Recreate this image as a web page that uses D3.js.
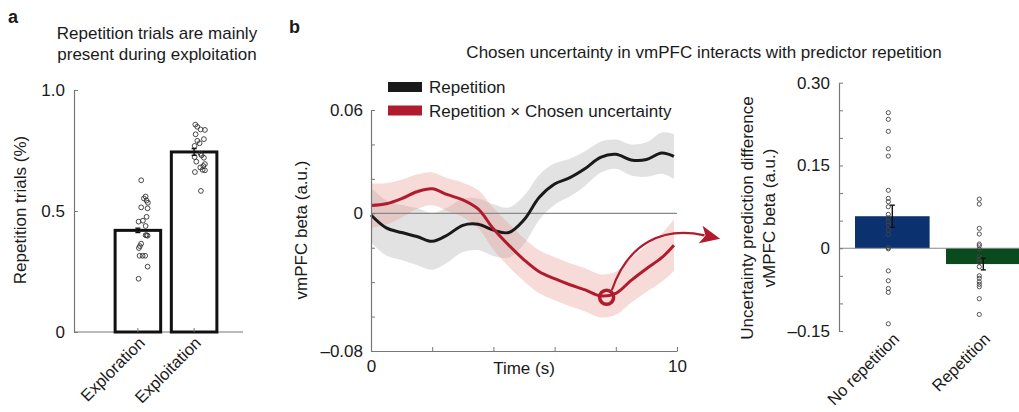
<!DOCTYPE html>
<html><head><meta charset="utf-8">
<script src="https://cdn.jsdelivr.net/npm/d3@7"></script>
<style>
html,body{margin:0;padding:0;background:#fff;}
svg{display:block;font-family:"Liberation Sans",Arial,Helvetica,sans-serif;}
</style></head>
<body><svg id="c" width="1019" height="412"></svg>
<script>
// ---------- Panel a data ----------
const aCategories = ["Exploration", "Exploitation"];
const aMeans = [0.42, 0.744];
const aSE = [0.009, 0.014];
const aYTicks = [0, 0.5, 1.0];
const aYTickLabels = ["0", "0.5", "1.0"];
const explorationDots = [0.627,0.56,0.552,0.543,0.534,0.515,0.511,0.476,0.46,0.456,0.438,0.40,0.40,0.398,0.365,0.355,0.347,0.315,0.315,0.315,0.27,0.22];
const explorationJitter = [3.3,7.7,6,8.7,10,3.3,9.7,8.7,5,0.7,7.7,8.7,7.7,9.7,3.3,2,1,1.7,4.7,7.3,9.7,0.7];
const exploitationDots = [0.857,0.848,0.837,0.835,0.817,0.797,0.79,0.78,0.769,0.737,0.73,0.723,0.72,0.704,0.694,0.686,0.68,0.668,0.67,0.661,0.583];
const exploitationJitter = [1.2,3.2,6.5,10.8,1.5,9.8,3.2,5.5,0.5,6.5,7.5,0.5,9.8,2.2,10.8,9.2,6.2,10.8,8.5,0.8,6.8];

// ---------- Panel b (time course) data ----------
const timeS = [0,0.5,1,1.5,2,2.5,3,3.5,4,4.5,5,5.5,6,6.5,7,7.5,8,8.5,9,9.5,9.9];
const repetitionBeta = [-0.001,-0.0085,-0.0112,-0.0135,-0.0163,-0.0126,-0.0070,-0.0064,-0.0098,-0.0112,-0.0038,0.0093,0.0170,0.0207,0.0260,0.0325,0.0343,0.0310,0.0312,0.0350,0.0330];
const repetitionSE = [0.016,0.016,0.016,0.0165,0.0165,0.016,0.0155,0.015,0.015,0.0145,0.014,0.013,0.012,0.011,0.010,0.009,0.0085,0.009,0.010,0.012,0.013];
const interactionBeta = [0.0045,0.0055,0.0085,0.0125,0.0142,0.0108,0.0078,0.0025,-0.0090,-0.0185,-0.0270,-0.0340,-0.0380,-0.0415,-0.0445,-0.0480,-0.0465,-0.0390,-0.0322,-0.0258,-0.0185];
const interactionSE = [0.013,0.012,0.011,0.010,0.0095,0.0095,0.010,0.011,0.012,0.0125,0.0125,0.0125,0.0125,0.0125,0.0125,0.0125,0.0125,0.013,0.0135,0.014,0.015];
const bYTicks = [-0.08,-0.06,-0.04,-0.02,0,0.02,0.04,0.06];
const bYTickLabels = {"-0.08":"\u20130.08","0":"0","0.06":"0.06"};
const bXTicks = [0,2,4,6,8,10];
const legendLabels = ["Repetition", "Repetition \u00d7 Chosen uncertainty"];
const markerPoint = {t: 7.7, v: -0.0488};

// ---------- Panel b (bars) data ----------
const cCategories = ["No repetition", "Repetition"];
const cMeans = [0.058, -0.0287];
const cSE = [0.020, 0.0105];
const noRepetitionDots = [0.2456,0.2336,0.2118,0.1803,0.167,0.105,0.0904,0.0843,0.0752,0.0614,0.055,0.048,0.042,0.033,0.025,0.001,-0.001,-0.041,-0.059,-0.073,-0.080,-0.137];
const repetitionDots = [0.089,0.080,0.036,0.0257,0.0076,0.0045,-0.0015,-0.0154,-0.020,-0.0256,-0.0335,-0.050,-0.0545,-0.0607,-0.0654,-0.0698,-0.0915,-0.12];
const cYTicks = [-0.15,-0.10,-0.05,0,0.05,0.10,0.15,0.20,0.25,0.30];
const cYTickLabels = {"-0.15":"\u20130.15","0":"0","0.15":"0.15","0.3":"0.30"};

// ---------- drawing ----------
const svg = d3.select("#c");
const AX = "#777";
const TXT = "#1a1a1a";
const RED = "#b01c2e";
const fs = 17;
const fsRot = 16.5;

function styleAxis(g){
  g.selectAll(".domain").attr("stroke", AX).attr("stroke-width", 1.2);
  g.selectAll(".tick line").attr("stroke", AX).attr("stroke-width", 1);
  g.selectAll(".tick text").attr("fill", TXT).attr("font-size", fs).attr("font-family", "Liberation Sans, Arial, sans-serif");
}

// panel letters & titles
svg.append("text").attr("x", 8).attr("y", 23).attr("font-size", 18).attr("font-weight", "bold").attr("fill", TXT).text("a");
svg.append("text").attr("x", 289).attr("y", 33).attr("font-size", 18).attr("font-weight", "bold").attr("fill", TXT).text("b");
svg.append("text").attr("x", 157).attr("y", 39).attr("text-anchor", "middle").attr("font-size", fs).attr("fill", TXT).text("Repetition trials are mainly");
svg.append("text").attr("x", 157).attr("y", 60).attr("text-anchor", "middle").attr("font-size", fs).attr("fill", TXT).text("present during exploitation");
svg.append("text").attr("x", 704).attr("y", 58).attr("text-anchor", "middle").attr("font-size", fs).attr("fill", TXT).text("Chosen uncertainty in vmPFC interacts with predictor repetition");

// ===== Panel a =====
const ay = d3.scaleLinear().domain([0, 1]).range([332, 90]);
const ax = d3.scaleBand().domain(aCategories).range([109.5, 222.5]).paddingInner(0.19).paddingOuter(0.1);
const gA = svg.append("g");
const aAxisY = gA.append("g").attr("transform", "translate(74,0)")
  .call(d3.axisLeft(ay).tickValues(aYTicks).tickSizeInner(-4).tickSizeOuter(0).tickPadding(9)
    .tickFormat((d,i) => aYTickLabels[i]));
styleAxis(aAxisY);
gA.append("line").attr("x1", 74).attr("x2", 243).attr("y1", 332).attr("y2", 332).attr("stroke", AX).attr("stroke-width", 1.2);
gA.selectAll("rect.bar").data(aCategories).enter().append("rect")
  .attr("x", d => ax(d)).attr("width", ax.bandwidth())
  .attr("y", (d,i) => ay(aMeans[i])).attr("height", (d,i) => ay(0) - ay(aMeans[i]))
  .attr("fill", "#fff").attr("stroke", "#111").attr("stroke-width", 3);
gA.selectAll("line.ct").data(aCategories).enter().append("line")
  .attr("x1", d => ax(d) + ax.bandwidth()/2).attr("x2", d => ax(d) + ax.bandwidth()/2)
  .attr("y1", 332).attr("y2", 328).attr("stroke", AX);
const aDotSets = [[explorationDots, explorationJitter], [exploitationDots, exploitationJitter]];
aDotSets.forEach(([vals, jit], ci) => {
  const cx = ax(aCategories[ci]) + ax.bandwidth()/2;
  gA.selectAll(null).data(vals).enter().append("circle")
    .attr("cx", (d,i) => cx + jit[i]).attr("cy", d => ay(d)).attr("r", 2.4)
    .attr("fill", "none").attr("stroke", "#333").attr("stroke-width", 0.9);
});
aCategories.forEach((c, i) => {
  const cx = ax(c) + ax.bandwidth()/2;
  const g = gA.append("g").attr("stroke", "#111").attr("stroke-width", 1.4);
  g.append("line").attr("x1", cx).attr("x2", cx).attr("y1", ay(aMeans[i]-aSE[i])).attr("y2", ay(aMeans[i]+aSE[i]));
  g.append("line").attr("x1", cx-2.5).attr("x2", cx+2.5).attr("y1", ay(aMeans[i]-aSE[i])).attr("y2", ay(aMeans[i]-aSE[i]));
  g.append("line").attr("x1", cx-2.5).attr("x2", cx+2.5).attr("y1", ay(aMeans[i]+aSE[i])).attr("y2", ay(aMeans[i]+aSE[i]));
  gA.append("text").attr("transform", `translate(${cx+8},${344}) rotate(-45)`)
    .attr("text-anchor", "end").attr("font-size", fsRot).attr("fill", TXT).text(c);
});
gA.append("text").attr("transform", "translate(26,210) rotate(-90)").attr("text-anchor", "middle")
  .attr("font-size", fs).attr("fill", TXT).text("Repetition trials (%)");

// ===== Panel b time course =====
const bx = d3.scaleLinear().domain([0, 10]).range([371, 677]);
const by = d3.scaleLinear().domain([-0.08, 0.06]).range([351, 110]);
const gB = svg.append("g");
const bandArea = (vals, se) => d3.area().curve(d3.curveCatmullRom)
  .x((d,i) => bx(timeS[i])).y0((d,i) => by(vals[i]-se[i])).y1((d,i) => by(vals[i]+se[i]));
const lineGen = (vals) => d3.line().curve(d3.curveCatmullRom).x((d,i) => bx(timeS[i])).y((d,i) => by(vals[i]));
gB.append("path").datum(timeS).attr("d", bandArea(repetitionBeta, repetitionSE)).attr("fill", "rgb(190,190,190)").attr("fill-opacity", 0.45);
gB.append("path").datum(timeS).attr("d", bandArea(interactionBeta, interactionSE)).attr("fill", "rgb(232,150,140)").attr("fill-opacity", 0.34);
gB.append("line").attr("x1", bx(0)).attr("x2", bx(10)).attr("y1", by(0)).attr("y2", by(0)).attr("stroke", "#888").attr("stroke-width", 1.2);
gB.append("path").datum(timeS).attr("d", lineGen(repetitionBeta)).attr("fill", "none").attr("stroke", "#1a1a1a").attr("stroke-width", 3);
gB.append("path").datum(timeS).attr("d", lineGen(interactionBeta)).attr("fill", "none").attr("stroke", RED).attr("stroke-width", 3);
const bAxisY = gB.append("g").attr("transform", `translate(${bx(0)},0)`)
  .call(d3.axisLeft(by).tickValues(bYTicks).tickSizeInner(-4).tickSizeOuter(0).tickPadding(8)
    .tickFormat(d => bYTickLabels[String(+d.toFixed(2))] || ""));
styleAxis(bAxisY);
const bAxisX = gB.append("g").attr("transform", `translate(0,${by(-0.08)})`)
  .call(d3.axisBottom(bx).tickValues(bXTicks).tickSizeInner(-4).tickSizeOuter(0).tickPadding(9)
    .tickFormat(d => (d === 0 || d === 10) ? String(d) : ""));
styleAxis(bAxisX);
gB.append("text").attr("x", bx(5)).attr("y", 374).attr("text-anchor", "middle").attr("font-size", fs).attr("fill", TXT).text("Time (s)");
gB.append("text").attr("transform", "translate(307,230) rotate(-90)").attr("text-anchor", "middle")
  .attr("font-size", fs).attr("fill", TXT).text("vmPFC beta (a.u.)");
// legend
const legColors = ["#1a1a1a", RED];
legendLabels.forEach((lab, i) => {
  const yy = 87 + i*23.5;
  gB.append("rect").attr("x", 388).attr("y", yy-5).attr("width", 34).attr("height", 10).attr("fill", legColors[i]);
  gB.append("text").attr("x", 429).attr("y", yy+6).attr("font-size", fs).attr("fill", TXT).text(lab);
});
// marker & arrow (annotation, in data coordinates)
gB.append("circle").attr("cx", bx(markerPoint.t)).attr("cy", by(markerPoint.v)).attr("r", 7)
  .attr("fill", "none").attr("stroke", RED).attr("stroke-width", 3.5);
const defs = svg.append("defs");
defs.append("marker").attr("id", "ah").attr("viewBox", "0 0 10 10").attr("refX", 2).attr("refY", 5)
  .attr("markerWidth", 20).attr("markerHeight", 20).attr("markerUnits", "userSpaceOnUse")
  .attr("orient", "auto")
  .append("path").attr("d", "M0,0.5 L10,5 L0,9.5 L2.5,5 Z").attr("fill", RED);
const arrowPts = [[7.87,-0.0447],[8.40,-0.0170],[9.55,-0.0075],[10.90,-0.0128]];
const P = arrowPts.map(p => [bx(p[0]), by(p[1])]);
gB.append("path").attr("d", `M${P[0]}C${P[1]} ${P[2]} ${P[3]}`)
  .attr("fill", "none").attr("stroke", RED).attr("stroke-width", 2.2).attr("marker-end", "url(#ah)");

// ===== Panel b bars =====
const cy = d3.scaleLinear().domain([-0.15, 0.30]).range([331, 82.7]);
const cx = d3.scaleBand().domain(cCategories).range([839, 1036.6]).paddingInner(0.18).paddingOuter(0.176);
const gC = svg.append("g");
const cColors = ["#0b316f", "#0a4a1f"];
gC.selectAll("rect.bar").data(cCategories).enter().append("rect")
  .attr("x", d => cx(d)).attr("width", cx.bandwidth())
  .attr("y", (d,i) => cy(Math.max(0, cMeans[i]))).attr("height", (d,i) => Math.abs(cy(cMeans[i]) - cy(0)))
  .attr("fill", (d,i) => cColors[i]);
gC.append("line").attr("x1", 839).attr("x2", 1019).attr("y1", cy(0)).attr("y2", cy(0)).attr("stroke", "#888").attr("stroke-width", 1.2);
const cAxisY = gC.append("g").attr("transform", "translate(839,0)")
  .call(d3.axisLeft(cy).tickValues(cYTicks).tickSizeInner(-4).tickSizeOuter(0).tickPadding(9)
    .tickFormat(d => cYTickLabels[String(+d.toFixed(2))] || ""));
styleAxis(cAxisY);
[noRepetitionDots, repetitionDots].forEach((vals, ci) => {
  const x0 = cx(cCategories[ci]) + cx.bandwidth()/2 - 4;
  gC.selectAll(null).data(vals).enter().append("circle")
    .attr("cx", x0).attr("cy", d => cy(d)).attr("r", 2.1)
    .attr("fill", "none").attr("stroke", "#444").attr("stroke-width", 0.9);
});
cCategories.forEach((c, i) => {
  const x0 = cx(c) + cx.bandwidth()/2;
  const g = gC.append("g").attr("stroke", "#111").attr("stroke-width", 1.4);
  const lo = cy(cMeans[i]-cSE[i]), hi = cy(cMeans[i]+cSE[i]);
  g.append("line").attr("x1", x0).attr("x2", x0).attr("y1", lo).attr("y2", hi);
  g.append("line").attr("x1", x0-2.5).attr("x2", x0+2.5).attr("y1", lo).attr("y2", lo);
  g.append("line").attr("x1", x0-2.5).attr("x2", x0+2.5).attr("y1", hi).attr("y2", hi);
  gC.append("text").attr("transform", `translate(${x0+8},${340}) rotate(-45)`)
    .attr("text-anchor", "end").attr("font-size", fsRot).attr("fill", TXT).text(c);
});
gC.append("text").attr("transform", "translate(753,218) rotate(-90)").attr("text-anchor", "middle")
  .attr("font-size", fs).attr("fill", TXT).text("Uncertainty prediction difference");
gC.append("text").attr("transform", "translate(775,218) rotate(-90)").attr("text-anchor", "middle")
  .attr("font-size", fs).attr("fill", TXT).text("vMPFC beta (a.u.)");
</script></body></html>
